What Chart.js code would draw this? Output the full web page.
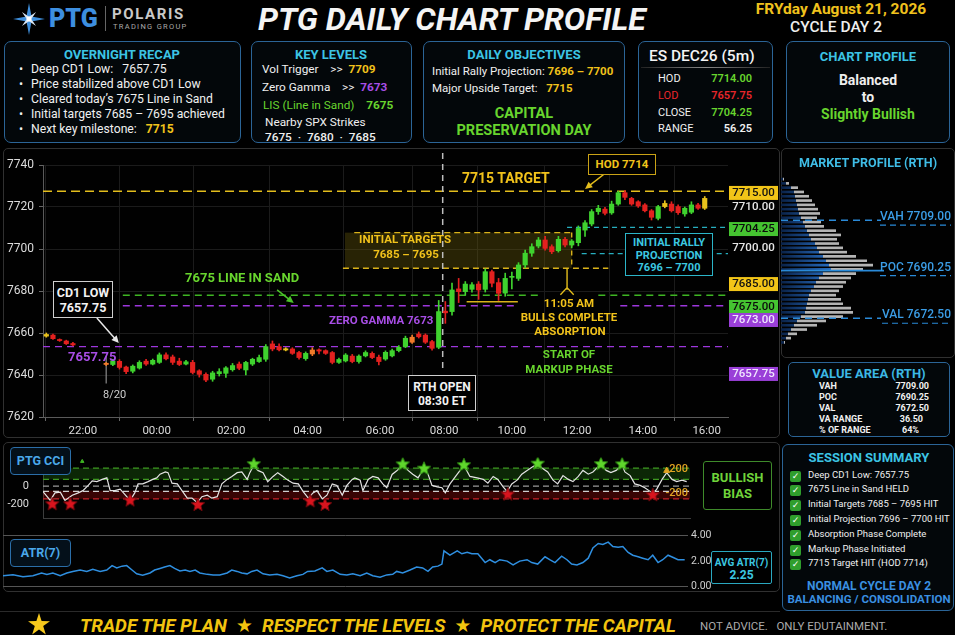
<!DOCTYPE html>
<html>
<head>
<meta charset="utf-8">
<title>PTG Daily Chart Profile</title>
<script src="https://cdn.jsdelivr.net/npm/chart.js@4.4.1/dist/chart.umd.min.js"></script>
<style>
  html, body { margin: 0; padding: 0; background: #000; }
  body { width: 955px; height: 635px; position: relative; overflow: hidden;
         font-family: Roboto, "DejaVu Sans", sans-serif; color: #f0f0f0; }
  .t { position: absolute; white-space: nowrap; line-height: 1; }
  .c { transform: translateX(-50%); }
  .r { transform: translateX(-100%); }
  .box { position: absolute; box-sizing: border-box; border: 1px solid #2b6496; border-radius: 7px; background: #03070a; }
  .panel { position: absolute; box-sizing: border-box; border: 1px solid #303030; border-radius: 5px; background: #010101; }
  canvas { position: absolute; }
  .cyan { color: #3cc4e4; font-weight: 700; }
  .yel { color: #f1c21b; font-weight: 700; }
  .grn { color: #68d52e; }
  .pur { color: #a84ee6; }
  .red { color: #e8262b; }
  .note { position: absolute; box-sizing: border-box; background: #000; text-align: center; font-weight: 700; line-height: 1.2; white-space: nowrap; }
  .lbl { position: absolute; box-sizing: border-box; border: 1px solid #2b6ea8; border-radius: 4px; background: #04101a;
         color: #4aa8ea; font-weight: 700; font-size: 12.5px; text-align: center; line-height: 26px; }
  .chk { display: inline-block; width: 11px; height: 11px; background: #2f9e2c; border-radius: 2px; color: #fff;
         font-size: 9px; line-height: 11px; text-align: center; margin-right: 7px; vertical-align: -1px; }
</style>
</head>
<body>

<!-- header -->
<svg style="position:absolute;left:13px;top:3px" width="32" height="32" viewBox="0 0 32 32">
  <polygon points="16,0 18.5,13.5 32,16 18.5,18.5 16,32 13.5,18.5 0,16 13.5,13.5" fill="#3f8fdc"/>
  <polygon points="16,6 17.6,14.4 26,16 17.6,17.6 16,26 14.4,17.6 6,16 14.4,14.4" fill="#dde8f5" transform="rotate(45 16 16)"/>
  <circle cx="16" cy="16" r="2.4" fill="#fff"/>
</svg>
<div class="t" style="left:49px;top:6px;font-size:25px;font-weight:900;color:#3d8fe0;">PTG</div>
<div style="position:absolute;left:105px;top:6px;width:1px;height:25px;background:#666"></div>
<div class="t" style="left:112px;top:7px;font-size:15px;font-weight:700;color:#c9c9c9;letter-spacing:1.6px">POLARIS</div>
<div class="t" style="left:113px;top:23px;font-size:7.5px;color:#aaa;letter-spacing:1.3px">TRADING GROUP</div>
<div class="t" style="left:258px;top:3px;font-size:32px;font-weight:700;font-style:italic;color:#f4f4f4">PTG DAILY CHART PROFILE</div>
<div class="t c" style="left:841px;top:2px;font-size:15.5px;font-weight:700;color:#f0c21d">FRYday August 21, 2026</div>
<div class="t c" style="left:836px;top:20px;font-size:15.5px;font-weight:500;color:#eee">CYCLE DAY 2</div>

<!-- overnight recap -->
<div class="box" style="left:4px;top:41px;width:237px;height:102px"></div>
<div class="t c cyan" style="left:122px;top:48px;font-size:13px">OVERNIGHT RECAP</div>
<div class="t" style="left:19px;top:63px;font-size:12.2px"><span style="display:inline-block;width:12px">•</span>Deep CD1 Low:&nbsp;&nbsp; 7657.75</div>
<div class="t" style="left:19px;top:78px;font-size:12.2px"><span style="display:inline-block;width:12px">•</span>Price stabilized above CD1 Low</div>
<div class="t" style="left:19px;top:93px;font-size:12.2px"><span style="display:inline-block;width:12px">•</span>Cleared today’s 7675 Line in Sand</div>
<div class="t" style="left:19px;top:108px;font-size:12.2px"><span style="display:inline-block;width:12px">•</span>Initial targets 7685 – 7695 achieved</div>
<div class="t" style="left:19px;top:123px;font-size:12.2px"><span style="display:inline-block;width:12px">•</span>Next key milestone:&nbsp;&nbsp; <span class="yel">7715</span></div>

<!-- key levels -->
<div class="box" style="left:251px;top:41px;width:161px;height:102px"></div>
<div class="t c cyan" style="left:331px;top:48px;font-size:13px">KEY LEVELS</div>
<div class="t" style="left:262px;top:64px;font-size:11.8px">Vol Trigger&nbsp;&nbsp;&nbsp; &gt;&gt;&nbsp; <span class="yel">7709</span></div>
<div class="t" style="left:262px;top:82px;font-size:11.8px">Zero Gamma&nbsp;&nbsp;&nbsp; &gt;&gt;&nbsp; <span class="pur" style="font-weight:700">7673</span></div>
<div class="t grn" style="left:263px;top:100px;font-size:11.8px">LIS (Line in Sand)&nbsp;&nbsp;&nbsp; <b>7675</b></div>
<div class="t" style="left:265px;top:117px;font-size:11.8px">Nearby SPX Strikes</div>
<div class="t" style="left:265px;top:132px;font-size:11.8px;font-weight:500">7675&nbsp; ·&nbsp; 7680&nbsp; ·&nbsp; 7685</div>

<!-- daily objectives -->
<div class="box" style="left:423px;top:41px;width:202px;height:102px"></div>
<div class="t c cyan" style="left:524px;top:48px;font-size:13px">DAILY OBJECTIVES</div>
<div class="t" style="left:432px;top:66px;font-size:11.5px">Initial Rally Projection: <span class="yel">7696 – 7700</span></div>
<div class="t" style="left:432px;top:83px;font-size:11.5px">Major Upside Target:&nbsp;&nbsp; <span class="yel">7715</span></div>
<div class="t c grn" style="left:524px;top:107px;font-size:14.5px;font-weight:700">CAPITAL</div>
<div class="t c grn" style="left:524px;top:124px;font-size:14.5px;font-weight:700">PRESERVATION DAY</div>

<!-- ES box -->
<div class="box" style="left:638px;top:41px;width:135px;height:102px"></div>
<div class="t" style="left:649px;top:49px;font-size:15.5px;font-weight:500;color:#f4f4f4">ES DEC26 (5m)</div>
<div style="position:absolute;left:641px;top:67px;width:129px;height:1px;background:linear-gradient(90deg,#222,#888,#222)"></div>
<div class="t" style="left:658px;top:73px;font-size:11px">HOD</div>
<div class="t r grn" style="left:752px;top:73px;font-size:11px;font-weight:600">7714.00</div>
<div class="t red" style="left:658px;top:90px;font-size:11px">LOD</div>
<div class="t r red" style="left:752px;top:90px;font-size:11px;font-weight:600">7657.75</div>
<div class="t" style="left:658px;top:107px;font-size:11px">CLOSE</div>
<div class="t r grn" style="left:752px;top:107px;font-size:11px;font-weight:600">7704.25</div>
<div class="t" style="left:658px;top:123px;font-size:11px">RANGE</div>
<div class="t r" style="left:752px;top:123px;font-size:11px;font-weight:600">56.25</div>

<!-- chart profile -->
<div class="box" style="left:786px;top:41px;width:164px;height:102px"></div>
<div class="t c cyan" style="left:868px;top:50px;font-size:13px">CHART PROFILE</div>
<div class="t c" style="left:868px;top:73px;font-size:14px;font-weight:700;color:#eee">Balanced</div>
<div class="t c" style="left:868px;top:90px;font-size:14px;font-weight:700;color:#eee">to</div>
<div class="t c grn" style="left:868px;top:107px;font-size:14px;font-weight:700">Slightly Bullish</div>

<!-- panels -->
<div class="panel" style="left:3px;top:148px;width:777px;height:290px"></div>
<div class="panel" style="left:781px;top:148px;width:174px;height:210px"></div>
<div class="panel" style="left:3px;top:442px;width:777px;height:150px"></div>
<div class="box" style="left:788px;top:362px;width:162px;height:75px;border-radius:5px"></div>
<div class="box" style="left:782px;top:444px;width:172px;height:167px;border-radius:6px"></div>
<div style="position:absolute;left:0;top:611px;width:780px;height:1px;background:#2a2a2a"></div>

<canvas id="main" width="777" height="290" style="left:3px;top:148px;width:777px;height:290px"></canvas>
<canvas id="profile" width="174" height="195" style="left:781px;top:165px;width:174px;height:195px"></canvas>
<canvas id="cci" width="700" height="86" style="left:0px;top:445px;width:700px;height:86px"></canvas>
<canvas id="atr" width="720" height="70" style="left:0px;top:526px;width:720px;height:70px"></canvas>

<!-- main chart notes -->
<div class="note" style="left:53px;top:281px;width:60px;height:37px;border:1px solid #cfcfcf;color:#f2f2f2;font-size:12.5px;padding-top:3px">CD1 LOW<br>7657.75</div>
<div class="t pur" style="left:68px;top:350px;font-size:13px;font-weight:700">7657.75</div>
<div class="t" style="left:103px;top:389px;font-size:11px;color:#cfcfcf">8/20</div>
<div class="t grn" style="left:185px;top:271px;font-size:13px;font-weight:700">7675 LINE IN SAND</div>
<div class="t pur" style="left:329px;top:315px;font-size:11.5px;font-weight:700">ZERO GAMMA 7673</div>
<div class="t c yel" style="left:405px;top:234px;font-size:11.5px">INITIAL TARGETS</div>
<div class="t c yel" style="left:406px;top:249px;font-size:11.5px">7685 – 7695</div>
<div class="t yel" style="left:462px;top:171px;font-size:14px">7715 TARGET</div>
<div class="note" style="left:588px;top:154px;width:68px;height:21px;border:1px solid #c9a216;color:#f1c21b;font-size:11.5px;line-height:19px">HOD 7714</div>
<div class="t c yel" style="left:569px;top:298px;font-size:11.5px">11:05 AM</div>
<div class="t c yel" style="left:569px;top:312px;font-size:11.5px">BULLS COMPLETE</div>
<div class="t c yel" style="left:570px;top:326px;font-size:11.5px">ABSORPTION</div>
<div class="t c grn" style="left:569px;top:349px;font-size:11.5px;font-weight:700">START OF</div>
<div class="t c grn" style="left:569px;top:364px;font-size:11.5px;font-weight:700">MARKUP PHASE</div>
<div class="note" style="left:625px;top:233px;width:88px;height:43px;border:1px solid #2bb5c8;color:#3cc8e0;font-size:11px;padding-top:3px;line-height:12.5px">INITIAL RALLY<br>PROJECTION<br>7696 – 7700</div>
<div class="note" style="left:408px;top:375px;width:68px;height:36px;border:1px solid #cfcfcf;color:#f2f2f2;font-size:12px;padding-top:4px;line-height:14px">RTH OPEN<br>08:30 ET</div>

<!-- market profile texts -->
<div class="t c" style="left:868px;top:157px;font-size:12.5px;font-weight:700;color:#3fbde6">MARKET PROFILE (RTH)</div>
<div class="t c cyan" style="left:869px;top:367px;font-size:13px;color:#3cb8e4">VALUE AREA (RTH)</div>
<div class="t" style="left:819px;top:382px;font-size:9px;font-weight:700">VAH</div>
<div class="t r" style="left:929px;top:382px;font-size:9px;font-weight:700">7709.00</div>
<div class="t" style="left:819px;top:393px;font-size:9px;font-weight:700">POC</div>
<div class="t r" style="left:929px;top:393px;font-size:9px;font-weight:700">7690.25</div>
<div class="t" style="left:819px;top:404px;font-size:9px;font-weight:700">VAL</div>
<div class="t r" style="left:929px;top:404px;font-size:9px;font-weight:700">7672.50</div>
<div class="t" style="left:819px;top:415px;font-size:9px;font-weight:700">VA RANGE</div>
<div class="t r" style="left:923px;top:415px;font-size:9px;font-weight:700">36.50</div>
<div class="t" style="left:819px;top:426px;font-size:9px;font-weight:700">% OF RANGE</div>
<div class="t r" style="left:919px;top:426px;font-size:9px;font-weight:700">64%</div>

<!-- lower panel labels -->
<div class="lbl" style="left:10px;top:447px;width:61px;height:28px">PTG CCI</div>
<div class="lbl" style="left:10px;top:539px;width:61px;height:28px">ATR(7)</div>
<div class="note" style="left:703px;top:461px;width:69px;height:49px;border:1px solid #3e8a2a;border-radius:3px;color:#6fd33a;font-size:13px;padding-top:8px;line-height:16px">BULLISH<br>BIAS</div>
<div class="note" style="left:711px;top:551px;width:61px;height:33px;border:1px solid #2aa8c0;border-radius:2px;color:#3cc8e0;font-size:10px;padding-top:4px;line-height:13px">AVG ATR(7)<br><span style="font-size:12px">2.25</span></div>

<!-- session summary -->
<div class="t c cyan" style="left:869px;top:451px;font-size:13px">SESSION SUMMARY</div>
<div class="t" style="left:790px;top:470px;font-size:9.5px"><span class="chk">✓</span>Deep CD1 Low: 7657.75</div>
<div class="t" style="left:790px;top:484px;font-size:9.5px"><span class="chk">✓</span>7675 Line in Sand HELD</div>
<div class="t" style="left:790px;top:499px;font-size:9.5px"><span class="chk">✓</span>Initial Targets 7685 – 7695 HIT</div>
<div class="t" style="left:790px;top:514px;font-size:9.5px"><span class="chk">✓</span>Initial Projection 7696 – 7700 HIT</div>
<div class="t" style="left:790px;top:529px;font-size:9.5px"><span class="chk">✓</span>Absorption Phase Complete</div>
<div class="t" style="left:790px;top:544px;font-size:9.5px"><span class="chk">✓</span>Markup Phase Initiated</div>
<div class="t" style="left:790px;top:558px;font-size:9.5px"><span class="chk">✓</span>7715 Target HIT (HOD 7714)</div>
<div class="t c" style="left:869px;top:580px;font-size:12px;font-weight:700;color:#3a8fe0">NORMAL CYCLE DAY 2</div>
<div class="t c" style="left:869px;top:594px;font-size:11.5px;font-weight:700;color:#3a8fe0">BALANCING / CONSOLIDATION</div>

<!-- footer -->
<svg style="position:absolute;left:28px;top:613px" width="22" height="22" viewBox="0 0 22 22">
  <polygon points="11,0 13.6,8 22,8.2 15.2,13.1 17.8,21.5 11,16.4 4.2,21.5 6.8,13.1 0,8.2 8.4,8" fill="#f6c81c"/>
</svg>
<div class="t" style="left:80px;top:616px;font-size:19px;font-weight:700;font-style:italic;color:#f2c40f;transform:scaleX(0.985);transform-origin:left">TRADE THE PLAN&nbsp; ★&nbsp; RESPECT THE LEVELS&nbsp; ★&nbsp; PROTECT THE CAPITAL</div>
<div class="t" style="left:700px;top:621px;font-size:11.5px;color:#aaa">NOT ADVICE.&nbsp;&nbsp; ONLY EDUTAINMENT.</div>

<script>
// ---- ES 5m candles (overnight + RTH) ----
const candleOpen = [7658.5, 7659, 7656.9, 7656.2, 7655,
  7645, 7645, 7646.5, 7643.8, 7641.8, 7643.3, 7646.6, 7645.2, 7646, 7649.6, 7648.6, 7646.6, 7645.2, 7646, 7642, 7640.3, 7638, 7640.6, 7640.8, 7642.5,
  7645.2, 7642.4, 7645.2, 7646.4, 7647.5, 7654.8, 7653.5, 7652.4, 7652.4, 7650.7, 7647.8, 7650, 7651.9, 7651.6, 7650.7, 7646, 7646.7, 7649, 7646.4, 7649.1, 7650.3, 7648.5, 7647.6, 7649.1, 7651.6, 7653.5, 7658, 7659.5, 7659, 7655.9, 7653.2,
  7670.4, 7670.2, 7681, 7679.7, 7680.8, 7683.3, 7680.8, 7689.2, 7684, 7679, 7686.5, 7686, 7692.4, 7698, 7701.4, 7704.3, 7701.1, 7699.2, 7704.6, 7701.9, 7703, 7709, 7711.9, 7717.8, 7719, 7717.2, 7721.4, 7726.8, 7724.1, 7722.5, 7721, 7718.2, 7714.6, 7720.2, 7721.4, 7720.2, 7716.7, 7717.5, 7721, 7719.4];
const candleClose = [7659.3, 7657.3, 7656.4, 7654.9, 7654.3,
  7645.6, 7646.7, 7643.6, 7641.6, 7644.2, 7646, 7645.2, 7647, 7649.6, 7647.7, 7646, 7645, 7646.3, 7641.2, 7640.3, 7637.6, 7641, 7641.6, 7643.4, 7644.5,
  7643.2, 7646, 7647.5, 7648.3, 7653.5, 7652.4, 7652, 7652, 7650.3, 7648.3, 7650.3, 7651.9, 7651.5, 7650.3, 7646, 7647.4, 7649.5, 7646.4, 7649, 7650.7, 7648.3, 7646.4, 7650.8, 7651.6, 7653.2, 7657.5, 7655.6, 7658.2, 7655.6, 7652.7, 7670.2,
  7669.6, 7680.5, 7679.7, 7683.3, 7683, 7680.5, 7689.2, 7683.7, 7678.9, 7686, 7687, 7692.4, 7698, 7701.1, 7704.3, 7700.3, 7698.7, 7704.6, 7701.9, 7703.8, 7709.8, 7712.5, 7717.8, 7719.4, 7717, 7721.4, 7726.8, 7724.6, 7721.4, 7720.5, 7718.2, 7715.1, 7720.2, 7721.7, 7718.2, 7717.3, 7719.4, 7721, 7719.4, 7724.1];
const candleHigh = [7660, 7659.5, 7657.2, 7656.6, 7655.6,
  7646, 7647.5, 7647.3, 7644.3, 7644.8, 7646.8, 7647.5, 7647.6, 7650.5, 7650.5, 7649.5, 7648, 7647, 7647, 7642.5, 7641, 7641.8, 7643, 7644, 7645.5,
  7646.2, 7646.5, 7648, 7649.5, 7654.5, 7656.2, 7654.8, 7653, 7653, 7651.3, 7651, 7653, 7652.5, 7652, 7651.2, 7648, 7650.2, 7649.8, 7649.6, 7651.5, 7651, 7649.5, 7651.5, 7652.4, 7654, 7658.5, 7659, 7660.5, 7659.6, 7656.5, 7675.5,
  7675, 7683.8, 7686, 7684.5, 7684, 7684.5, 7690.5, 7690, 7686, 7688.5, 7689, 7693.5, 7699.5, 7702.5, 7705.5, 7706, 7702, 7706, 7705.5, 7704.5, 7711, 7713.5, 7718.8, 7720.8, 7719.8, 7722.8, 7727.5, 7727.8, 7724.6, 7723, 7721.6, 7718.8, 7720.8, 7723, 7722.5, 7721, 7720, 7722.5, 7721.8, 7725];
const candleLow = [7658, 7657, 7656, 7654.5, 7653.8,
  7644.5, 7644.5, 7642.8, 7640.6, 7641, 7642.8, 7644.6, 7644.8, 7645.5, 7647.2, 7645, 7644.5, 7644.8, 7640.5, 7639, 7636.8, 7637, 7639.5, 7638.8, 7641.8,
  7642.5, 7640, 7644.5, 7646, 7646.5, 7651.5, 7651.5, 7651.5, 7649.8, 7647.5, 7647, 7649.2, 7650, 7649.8, 7645.3, 7645.5, 7646.2, 7645.8, 7645.6, 7648.6, 7647.8, 7644.8, 7647, 7648.6, 7651, 7653, 7655, 7657.6, 7655, 7651.8, 7652.5,
  7664.6, 7668.5, 7674.5, 7678, 7679.5, 7676, 7679.5, 7682, 7675.5, 7677.5, 7681, 7685, 7691, 7696.5, 7700.5, 7699.5, 7697.8, 7698.5, 7701, 7700.5, 7701.5, 7706, 7711, 7716.5, 7716.2, 7716.5, 7720.8, 7723.5, 7720.8, 7719.8, 7717.6, 7713.8, 7713.8, 7719.6, 7717.6, 7716.5, 7715.6, 7716.8, 7718.8, 7718.8];
const yellowBars = [0, 32, 89, 95];
const orangeBars = [5, 36, 51];

// time axis (one slot per candle, session break after the 5th candle)
const timeTickSlot = [5.5, 16.6, 27.8, 39.3, 50.2, 59.8, 70.0, 79.8, 89.7, 99.3];
const timeTickLabel = ['22:00', '00:00', '02:00', '04:00', '06:00', '08:00', '10:00', '12:00', '14:00', '16:00'];
const rthOpenSlot = 59.6;

// drawn levels (where the picture places them)
const levelTarget = 7727.5;
const levelLIS = 7678;
const levelZeroGamma = 7673;
const levelCD1Low = 7653.5;
const levelRallyTop = 7710.3;
const levelRallyBottom = 7697.8;
const targetZoneTop = 7707.8;
const targetZoneBottom = 7690.8;
const absorptionLevel = 7674.9;

// price tags on the right edge
const tagText = ['7715.00', '7710.00', '7704.25', '7700.00', '7685.00', '7675.00', '7673.00', '7657.75'];
const tagLevel = [7726.7, 7720.1, 7709.5, 7700.5, 7683.3, 7672.4, 7666.2, 7640.5];
const tagKind = ['y', 'n', 'g', 'n', 'y', 'g', 'p', 'p'];

// market profile (RTH)
const profilePrice = [7724.3, 7722.7, 7721.1, 7719.5, 7717.9, 7716.3, 7714.7, 7713.1, 7711.5, 7709.9, 7708.3, 7706.7, 7705.1, 7703.5, 7701.9, 7700.3, 7698.7, 7697.1, 7695.5, 7693.9,
  7692.3, 7690.7, 7689.1, 7687.5, 7685.9, 7684.3, 7682.7, 7681.1, 7679.5, 7677.9, 7676.3, 7674.7, 7673.1, 7671.5, 7669.9, 7668.3, 7666.7, 7665.1, 7663.5];
const profileInner = [2, 5, 10, 13, 14, 15, 16, 17, 18, 20, 22, 24, 26, 28, 30, 34, 36, 38, 42, 45, 48, 50, 42, 38, 35, 33, 30, 28, 27, 26, 25, 24, 20, 16, 13, 10, 7, 5, 3];
const profileOuter = [1, 3, 7, 10, 14, 16, 18, 20, 21, 16, 18, 19, 29, 32, 26, 24, 26, 28, 33, 41, 44, 32, 33, 32, 30, 29, 28, 27, 33, 36, 45, 48, 42, 29, 23, 16, 9, 5, 1];
const profileVAH = 7709, profilePOC = 7690.25, profileVAL = 7672.5;

// PTG CCI
const cciTime = [-0.5, 0.6, 1.3, 2.1, 2.8, 3.9, 4.8, 5.5, 6.3, 6.9, 7.6, 8.4, 9.1, 9.6, 10.3, 11.1, 11.8, 12.6, 13.3, 13.8, 14.5, 15.3, 16.0, 16.6, 17.1, 17.9, 18.3, 18.9, 19.7, 20.4,
  21.2, 21.9, 22.7, 23.4, 24.2, 24.9, 25.7, 26.4, 27.2, 27.9, 28.7, 29.4, 30.2, 30.6, 31.2, 31.8, 32.6, 33.3, 34.1, 34.8, 35.6, 36.3, 37.1, 37.9, 38.6, 39.4, 40.1, 40.7, 41.5, 42.2,
  43.0, 43.7, 44.5, 45.2, 46.0, 46.4, 47.2, 47.6, 48.4, 49.1, 49.9, 50.6, 51.2, 52.0, 52.7, 53.6, 54.4, 55.1, 55.9, 56.8, 57.4, 58.0, 58.8, 59.5, 60.0, 60.7, 61.8, 62.8, 63.7, 64.8,
  65.7, 66.4, 67.2, 67.9, 68.7, 69.3, 70.0, 70.8, 71.5, 72.3, 73.2, 73.9, 74.7, 75.4, 76.2, 76.9, 77.7, 78.5, 79.2, 80.0, 80.7, 81.5, 82.2, 83.0, 83.4, 84.2, 84.9, 85.7, 86.6, 87.0,
  87.8, 88.5, 89.3, 90.0, 90.8, 91.2, 91.8, 92.6, 93.3, 94.1, 94.8, 95.6, 96.3];
const cciValue = [-61, -158, -75, -67, -158, -100, -75, -50, 8, 58, 50, 75, 92, -50, -50, -33, -92, -158, -75, 25, 25, 50, 75, 92, 133, 158, 150, 33, 25, -50,
  -133, -133, -183, -117, -100, -133, -117, 25, 75, 108, 150, 158, 75, 150, 233, 175, 150, 50, 108, 150, 108, 67, 33, 25, -58, -133, -75, -50, -142, -100,
  25, 8, -100, 8, 75, 92, 67, -50, 75, 108, 92, 25, -17, 130, 170, 235, 175, 133, 92, 200, 133, 8, -8, -17, -75, 25, 133, 230, 108, 92,
  75, 33, 108, 75, -8, -58, 25, 67, 133, 175, 217, 245, 192, 158, 67, 25, 117, 75, 50, 108, 175, 133, 158, 217, 235, 175, 150, 175, 235, 158,
  117, 25, 8, -17, -58, -85, -33, 75, 150, 75, 50, 67, 50];
const buySignalTime = [31.2, 53.6, 56.8, 62.8, 73.9, 83.4, 86.6];
const buySignalValue = [244, 242, 194, 233, 250, 244, 242];
const sellSignalTime = [0.9, 3.6, 12.6, 22.8, 39.7, 41.9, 69.4, 91.2];
const sellSignalValue = [-200, -200, -158, -208, -167, -208, -92, -100];

// ATR(7)
const atrTime = [-6.5, -5.0, -3.5, -2.0, -0.7, 0.1, 1.0, 2.1, 3.1, 4.0, 5.1, 6.1, 7.0, 8.1, 9.1, 9.9, 10.6, 11.4, 12.1, 12.9, 13.6, 14.5, 15.6, 16.3, 17.1, 17.8, 18.6, 19.3, 20.1, 20.9,
  21.6, 22.4, 23.1, 24.2, 25.1, 26.1, 27.2, 27.9, 28.7, 29.4, 30.2, 30.9, 31.7, 32.6, 33.6, 34.7, 35.6, 36.6, 37.7, 38.6, 39.3, 40.4, 41.5, 42.2, 43.1, 44.2, 45.2, 46.1, 47.2, 48.2,
  49.1, 50.2, 51.2, 52.1, 52.7, 53.6, 54.7, 55.7, 56.6, 57.4, 58.1, 58.9, 59.5, 59.8, 60.7, 61.8, 62.5, 63.3, 64.0, 64.9, 66.0, 66.7, 67.5, 68.2, 69.3, 70.2, 71.2, 72.3, 73.0, 73.9,
  75.0, 75.7, 76.5, 77.5, 78.3, 79.0, 79.8, 80.7, 81.5, 82.2, 83.0, 83.7, 84.5, 85.2, 86.0, 86.7, 87.5, 88.2, 89.0, 89.7, 90.5, 91.2, 92.0, 92.7, 93.5, 94.2, 95.0, 96.0];
const atrValue = [0.85, 0.92, 0.78, 0.85, 1.07, 0.96, 1.07, 0.85, 1.07, 1.19, 1.30, 1.19, 1.35, 1.19, 1.30, 1.64, 1.46, 1.60, 1.64, 1.30, 1.00, 0.89, 1.07, 1.30, 1.42, 1.53, 1.64, 1.42, 1.23, 1.30,
  1.19, 1.30, 1.07, 0.96, 0.92, 0.92, 1.07, 1.30, 1.19, 1.07, 1.00, 1.19, 1.30, 1.00, 0.92, 0.96, 0.85, 0.68, 0.85, 0.96, 1.19, 1.23, 1.47, 1.19, 1.30, 0.96, 0.92, 1.00, 0.85, 1.07,
  0.85, 0.73, 0.92, 0.96, 1.19, 1.07, 1.30, 1.53, 1.46, 1.19, 1.53, 1.60, 1.76, 2.79, 2.45, 2.79, 2.56, 2.67, 2.56, 2.56, 1.88, 2.10, 1.88, 2.10, 1.99, 1.69, 1.99, 2.10, 1.88, 1.76,
  2.33, 2.10, 1.88, 2.38, 2.10, 1.76, 1.69, 1.88, 2.22, 3.01, 3.36, 3.29, 3.47, 3.13, 3.08, 3.13, 2.67, 2.45, 2.33, 2.22, 2.10, 2.45, 1.88, 2.10, 2.45, 2.29, 2.10, 2.10];

// ---------------------------------------------------------------
const FONT = 'Roboto, "DejaVu Sans", sans-serif';
const slotOf = i => (i < 5 ? i : i + 4);

function candleColor(i) {
  if (yellowBars.includes(i)) return '#e9c21c';
  if (orangeBars.includes(i)) return '#f07a2a';
  return candleClose[i] >= candleOpen[i] ? '#3fd22e' : '#e3211f';
}
const barColors = candleOpen.map((o, i) => candleColor(i));

function starImage(fill, stroke, r) {
  const c = document.createElement('canvas');
  const s = Math.ceil(r * 2 + 2);
  c.width = c.height = s;
  const g = c.getContext('2d');
  g.beginPath();
  for (let k = 0; k < 10; k++) {
    const rad = k % 2 ? r * 0.45 : r;
    const a = -Math.PI / 2 + k * Math.PI / 5;
    g.lineTo(s / 2 + rad * Math.cos(a), s / 2 + rad * Math.sin(a));
  }
  g.closePath();
  g.fillStyle = fill; g.fill();
  g.strokeStyle = stroke; g.lineWidth = 1; g.stroke();
  return c;
}

function arrow(ctx, x1, y1, x2, y2, color) {
  const a = Math.atan2(y2 - y1, x2 - x1);
  ctx.save();
  ctx.setLineDash([]);
  ctx.strokeStyle = color; ctx.fillStyle = color; ctx.lineWidth = 1.5;
  ctx.beginPath(); ctx.moveTo(x1, y1); ctx.lineTo(x2 - 5 * Math.cos(a), y2 - 5 * Math.sin(a)); ctx.stroke();
  ctx.beginPath();
  ctx.moveTo(x2, y2);
  ctx.lineTo(x2 - 8 * Math.cos(a - 0.45), y2 - 8 * Math.sin(a - 0.45));
  ctx.lineTo(x2 - 8 * Math.cos(a + 0.45), y2 - 8 * Math.sin(a + 0.45));
  ctx.closePath(); ctx.fill();
  ctx.restore();
}

const mainDecor = {
  id: 'mainDecor',
  beforeDatasetsDraw(chart) {
    const { ctx, chartArea, scales: { x, y } } = chart;
    const X = v => x.getPixelForValue(v), Y = v => y.getPixelForValue(v);
    ctx.save();
    // initial targets zone
    ctx.fillStyle = 'rgba(105,92,12,0.38)';
    ctx.fillRect(X(44.9), Y(targetZoneTop), X(79) - X(44.9), Y(targetZoneBottom) - Y(targetZoneTop));
    const hLines = [
      [levelTarget, '#e3bd1c', [9, 5], [[-0.5, 102.5]]],
      [levelLIS, '#3fb523', [7, 5], [[11.5, 74], [83, 102.5]]],
      [levelZeroGamma, '#9d37dc', [7, 5], [[11.5, 70.5], [86.3, 102.5]]],
      [levelCD1Low, '#9d37dc', [7, 5], [[-0.5, 102.5]]],
      [levelRallyTop, '#27aebf', [5, 4], [[78.3, 102.5]]],
      [levelRallyBottom, '#27aebf', [5, 4], [[80.5, 102.5]]],
      [targetZoneTop, '#d9b21a', [6, 4], [[46.3, 79]]],
      [targetZoneBottom, '#d9b21a', [6, 4], [[44.6, 84.5]]],
      [absorptionLevel, '#d9b21a', [], [[63.2, 70.9]]]
    ];
    ctx.lineWidth = 1.4;
    hLines.forEach(([v, col, dash, spans]) => {
      ctx.strokeStyle = col; ctx.setLineDash(dash);
      spans.forEach(([a, b]) => {
        ctx.beginPath(); ctx.moveTo(X(a), Y(v)); ctx.lineTo(X(b), Y(v)); ctx.stroke();
      });
    });
    // zone right edge
    ctx.strokeStyle = '#d9b21a'; ctx.setLineDash([5, 4]);
    ctx.beginPath(); ctx.moveTo(X(79), Y(targetZoneTop)); ctx.lineTo(X(79), Y(targetZoneBottom)); ctx.stroke();
    // RTH open
    ctx.strokeStyle = '#bdbdbd'; ctx.setLineDash([6, 5]); ctx.lineWidth = 1.5;
    ctx.beginPath(); ctx.moveTo(X(rthOpenSlot), chartArea.top - 12); ctx.lineTo(X(rthOpenSlot), Y(7641)); ctx.stroke();
    // 8/20 session marker
    ctx.setLineDash([]); ctx.strokeStyle = '#8a8a8a'; ctx.lineWidth = 1.2;
    ctx.beginPath(); ctx.moveTo(X(9), Y(7649)); ctx.lineTo(X(9), Y(7636)); ctx.stroke();
    ctx.restore();
  },
  afterDatasetsDraw(chart) {
    const { ctx, scales: { x, y } } = chart;
    const X = v => x.getPixelForValue(v), Y = v => y.getPixelForValue(v);
    arrow(ctx, X(7.6), Y(7667.1), X(10.9), Y(7655.2), '#e8e8e8');
    arrow(ctx, X(34.7), Y(7680.5), X(37.2), Y(7674.3), '#4cc42a');
    arrow(ctx, X(83.9), Y(7735.7), X(81.0), Y(7728.6), '#e3bd1c');
    // 11:05 absorption marker
    ctx.save();
    ctx.strokeStyle = '#e3bd1c'; ctx.lineWidth = 1.4;
    ctx.beginPath();
    ctx.moveTo(X(78.3), Y(targetZoneBottom)); ctx.lineTo(X(78.3), Y(7680.6));
    ctx.moveTo(X(78.3), Y(7681.6)); ctx.lineTo(X(77.3), Y(7678.2));
    ctx.moveTo(X(78.3), Y(7681.6)); ctx.lineTo(X(79.3), Y(7678.2));
    ctx.stroke();
    ctx.restore();
  },
  afterDraw(chart) {
    const { ctx, chartArea, scales: { y } } = chart;
    const bg = { y: '#f2c518', g: '#45c431', p: '#9a3fd8', n: null };
    const fg = { y: '#111', g: '#0b0b0b', p: '#f0e6ff', n: '#e6e6e6' };
    ctx.save();
    ctx.font = '500 11.5px ' + FONT;
    ctx.textAlign = 'center'; ctx.textBaseline = 'middle';
    tagText.forEach((txt, i) => {
      const cy = y.getPixelForValue(tagLevel[i]);
      const left = chartArea.right + 1, w = 49, h = 14;
      if (bg[tagKind[i]]) { ctx.fillStyle = bg[tagKind[i]]; ctx.fillRect(left, cy - h / 2, w, h); }
      ctx.fillStyle = fg[tagKind[i]];
      ctx.fillText(txt, left + w / 2, cy + 0.5);
    });
    ctx.restore();
  }
};

new Chart(document.getElementById('main'), {
  type: 'bar',
  data: {
    datasets: [
      {
        data: candleOpen.map((o, i) => ({ x: slotOf(i), y: [candleLow[i], candleHigh[i]] })),
        backgroundColor: barColors, barThickness: 1, grouped: false, order: 2
      },
      {
        data: candleOpen.map((o, i) => {
          const c = candleClose[i];
          const lo = Math.min(o, c), hi = Math.max(o, c);
          return { x: slotOf(i), y: hi - lo < 0.5 ? [(lo + hi) / 2 - 0.3, (lo + hi) / 2 + 0.3] : [lo, hi] };
        }),
        backgroundColor: barColors, barThickness: 4.5, grouped: false, order: 1
      }
    ]
  },
  options: {
    responsive: false, animation: false,
    layout: { padding: { top: 17, right: 52, left: 0, bottom: 0 } },
    plugins: { legend: { display: false }, tooltip: { enabled: false } },
    scales: {
      x: {
        type: 'linear', min: -0.5, max: 102.5, offset: false,
        afterBuildTicks: s => { s.ticks = timeTickSlot.map(v => ({ value: v })); },
        afterFit: s => { s.height = 21; },
        ticks: { autoSkip: false, maxRotation: 0, color: '#dcdcdc', font: { family: FONT, size: 11.5 }, padding: 3,
                 callback: (v, i) => timeTickLabel[i] },
        grid: { color: '#1b1b1b', tickLength: 4, tickColor: '#666' },
        border: { color: '#5a5a5a' }
      },
      y: {
        min: 7620, max: 7740,
        afterFit: s => { s.width = 40; },
        ticks: { stepSize: 20, color: '#dcdcdc', font: { family: FONT, size: 12 }, padding: 5, callback: v => String(v) },
        grid: { color: '#1b1b1b', tickLength: 4, tickColor: '#666' },
        border: { color: '#5a5a5a' }
      }
    }
  },
  plugins: [mainDecor]
});

// ---- market profile ----
const profileDecor = {
  id: 'profileDecor',
  afterDatasetsDraw(chart) {
    const { ctx, chartArea, scales: { x, y } } = chart;
    const rows = [['VAH', profileVAH, [7, 5]], ['POC', profilePOC, []], ['VAL', profileVAL, [7, 5]]];
    ctx.save();
    ctx.font = '500 12px ' + FONT;
    ctx.textAlign = 'right'; ctx.textBaseline = 'middle';
    rows.forEach(([name, v, dash]) => {
      const py = y.getPixelForValue(v);
      ctx.strokeStyle = '#2a8ad8'; ctx.lineWidth = name === 'POC' ? 1.8 : 1.5; ctx.setLineDash(dash);
      ctx.beginPath(); ctx.moveTo(chartArea.left, py); ctx.lineTo(x.getPixelForValue(name === 'POC' ? 103 : 100), py); ctx.stroke();
      const label = name + ' ' + v.toFixed(2);
      ctx.fillStyle = '#3b9de6';
      ctx.fillText(label, chartArea.right - 4, py - 3);
      const w = ctx.measureText(label).width;
      ctx.setLineDash([6, 4]); ctx.lineWidth = 1.2;
      ctx.beginPath(); ctx.moveTo(chartArea.right - 4 - w, py + 5); ctx.lineTo(chartArea.right - 4, py + 5); ctx.stroke();
    });
    ctx.restore();
  }
};

new Chart(document.getElementById('profile'), {
  type: 'bar',
  data: {
    datasets: [
      {
        data: profilePrice.map((p, i) => ({ x: profileInner[i], y: p })),
        backgroundColor: ctx => {
          const ca = ctx.chart.chartArea;
          if (!ca) return '#1d5aa8';
          const g = ctx.chart.ctx.createLinearGradient(ca.left, 0, ca.left + 55, 0);
          g.addColorStop(0, '#0a2248'); g.addColorStop(1, '#2b76cf');
          return g;
        },
        barPercentage: 0.62, categoryPercentage: 1
      },
      {
        data: profilePrice.map((p, i) => ({ x: profileOuter[i], y: p })),
        backgroundColor: '#b4b4b4', barPercentage: 0.62, categoryPercentage: 1
      }
    ]
  },
  options: {
    indexAxis: 'y', responsive: false, animation: false,
    layout: { padding: 0 },
    plugins: { legend: { display: false }, tooltip: { enabled: false } },
    scales: {
      x: { type: 'linear', min: 0, max: 174, stacked: true, display: false },
      y: { type: 'linear', min: 7661.5, max: 7725, stacked: true, display: false }
    }
  },
  plugins: [profileDecor]
});

// ---- PTG CCI ----
const cciZones = {
  id: 'cciZones',
  beforeDatasetsDraw(chart) {
    const { ctx, chartArea: a, scales: { y } } = chart;
    const Y = v => y.getPixelForValue(v);
    ctx.save();
    ctx.fillStyle = 'rgba(40,130,20,0.30)';
    ctx.fillRect(a.left, Y(200), a.right - a.left, Y(75) - Y(200));
    ctx.fillStyle = 'rgba(150,10,10,0.38)';
    ctx.fillRect(a.left, Y(-50), a.right - a.left, Y(-142) - Y(-50));
    ctx.lineWidth = 1.2; ctx.setLineDash([6, 4]);
    [[200, '#3f9a22'], [75, '#3f9a22'], [0, '#9a9a9a'], [-58, '#cfcfcf'], [-142, '#c4242a']].forEach(([v, c]) => {
      ctx.strokeStyle = c;
      ctx.beginPath(); ctx.moveTo(a.left, Y(v)); ctx.lineTo(a.right, Y(v)); ctx.stroke();
    });
    ctx.restore();
  },
  afterDraw(chart) {
    const { ctx, chartArea: a, scales: { y } } = chart;
    ctx.save();
    ctx.font = '500 11px ' + FONT; ctx.fillStyle = '#e0a322';
    ctx.textAlign = 'right'; ctx.textBaseline = 'middle';
    ctx.fillText('200', a.right - 2, y.getPixelForValue(183));
    ctx.fillText('-200', a.right - 2, y.getPixelForValue(-83));
    ctx.restore();
  }
};

new Chart(document.getElementById('cci'), {
  type: 'line',
  data: {
    datasets: [
      {
        data: cciTime.map((t, i) => ({ x: t, y: cciValue[i] })),
        borderColor: '#e4e4e4', borderWidth: 1.2, pointRadius: 0, tension: 0, order: 3
      },
      {
        data: buySignalTime.map((t, i) => ({ x: t, y: buySignalValue[i] })),
        showLine: false, pointStyle: starImage('#5fd62c', '#2f8a14', 7), pointRadius: 7, order: 1
      },
      {
        data: sellSignalTime.map((t, i) => ({ x: t, y: sellSignalValue[i] })),
        showLine: false, pointStyle: starImage('#d8141e', '#7a0a0e', 7), pointRadius: 7, order: 1
      },
      {
        data: [{ x: 93.3, y: 172 }],
        showLine: false, pointStyle: 'triangle', pointRadius: 3.5, backgroundColor: '#e0a322', borderColor: '#e0a322', order: 2
      },
      {
        data: [{ x: 5.4, y: 275 }],
        showLine: false, pointStyle: 'triangle', pointRadius: 2, backgroundColor: '#3fb523', borderColor: '#3fb523', order: 2
      }
    ]
  },
  options: {
    responsive: false, animation: false,
    layout: { padding: { top: 3, right: 10, bottom: 2, left: 0 } },
    plugins: { legend: { display: false }, tooltip: { enabled: false } },
    scales: {
      x: {
        type: 'linear', min: -0.5, max: 96.8,
        afterFit: s => { s.height = 0; },
        ticks: { display: false }, grid: { display: false, drawTicks: false },
        border: { color: '#3c3c3c' }
      },
      y: {
        min: -358, max: 317,
        afterFit: s => { s.width = 43; },
        afterBuildTicks: s => { s.ticks = [{ value: 0 }, { value: -200 }]; },
        ticks: { color: '#dcdcdc', font: { family: FONT, size: 11 }, padding: 6 },
        grid: { display: false },
        border: { color: '#3c3c3c' }
      }
    }
  },
  plugins: [cciZones]
});

// ---- ATR(7) ----
new Chart(document.getElementById('atr'), {
  type: 'line',
  data: {
    datasets: [{
      data: atrTime.map((t, i) => ({ x: t, y: atrValue[i] })),
      borderColor: '#2f8fe0', borderWidth: 1.5, pointRadius: 0, tension: 0
    }]
  },
  options: {
    responsive: false, animation: false,
    layout: { padding: { top: 6.5, right: 0, bottom: 5, left: 3 } },
    plugins: { legend: { display: false }, tooltip: { enabled: false } },
    scales: {
      x: { type: 'linear', min: -6.5, max: 96.5, display: false },
      y: {
        position: 'right', min: 0, max: 4,
        afterFit: s => { s.width = 32; },
        ticks: { stepSize: 2, color: '#cfcfcf', font: { family: FONT, size: 10.5 }, padding: 3, callback: v => v.toFixed(2) },
        grid: { color: ctx => (ctx.tick && ctx.tick.value === 2 ? 'rgba(0,0,0,0)' : '#555'), drawTicks: false },
        border: { display: false }
      }
    }
  }
});
</script>
</body>
</html>
